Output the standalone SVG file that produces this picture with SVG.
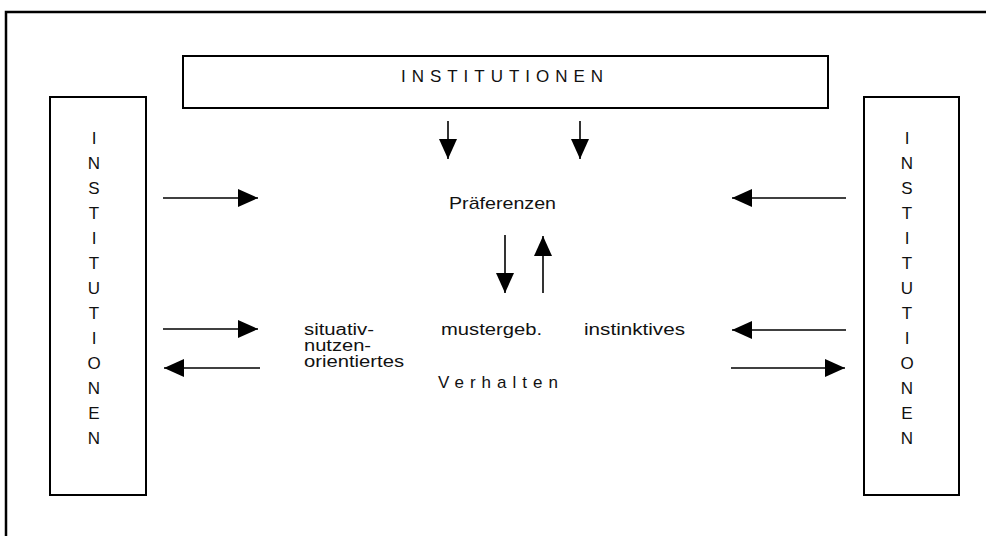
<svg xmlns="http://www.w3.org/2000/svg" width="986" height="536" viewBox="0 0 986 536">
  <style>
    .box { fill: #fff; stroke: #000; stroke-width: 2; }
    .frame { fill: none; stroke: #000; stroke-width: 2.5; }
    .t { font-family: "Liberation Sans", Arial, sans-serif; font-size: 17px; fill: #111; }
    .s { font-family: "Liberation Sans", Arial, sans-serif; font-size: 16px; fill: #111; }
    .v { font-family: "Liberation Sans", Arial, sans-serif; font-size: 17px; fill: #111; text-anchor: middle; }
    .arr { stroke: #000; stroke-width: 1.6; fill: none; marker-end: url(#head); }
  </style>
  <defs>
    <marker id="head" markerUnits="userSpaceOnUse" markerWidth="20" markerHeight="20" refX="20" refY="10" orient="auto" viewBox="0 0 20 20">
      <path d="M0,1 L20,10 L0,19 Z" fill="#000"/>
    </marker>
  </defs>
  <rect width="986" height="536" fill="#fff"/>
  <rect class="frame" x="6" y="12" width="1010" height="600"/>

  <g id="institutionen-top">
    <rect class="box" x="183" y="56" width="645" height="52"/>
    <text class="t" x="401" y="82" textLength="202" lengthAdjust="spacing" font-size="16">INSTITUTIONEN</text>
  </g>

  <g id="institutionen-left">
    <rect class="box" x="50" y="97" width="96" height="398"/>
    <text class="v"><tspan x="94" y="144">I</tspan><tspan x="94" y="169">N</tspan><tspan x="94" y="194">S</tspan><tspan x="94" y="219">T</tspan><tspan x="94" y="244">I</tspan><tspan x="94" y="269">T</tspan><tspan x="94" y="294">U</tspan><tspan x="94" y="319">T</tspan><tspan x="94" y="344">I</tspan><tspan x="94" y="369">O</tspan><tspan x="94" y="394">N</tspan><tspan x="94" y="419">E</tspan><tspan x="94" y="444">N</tspan></text>
  </g>

  <g id="institutionen-right">
    <rect class="box" x="864" y="97" width="95" height="398"/>
    <text class="v"><tspan x="907" y="144">I</tspan><tspan x="907" y="169">N</tspan><tspan x="907" y="194">S</tspan><tspan x="907" y="219">T</tspan><tspan x="907" y="244">I</tspan><tspan x="907" y="269">T</tspan><tspan x="907" y="294">U</tspan><tspan x="907" y="319">T</tspan><tspan x="907" y="344">I</tspan><tspan x="907" y="369">O</tspan><tspan x="907" y="394">N</tspan><tspan x="907" y="419">E</tspan><tspan x="907" y="444">N</tspan></text>
  </g>

  <g id="praeferenzen">
    <text class="t" x="449" y="209" textLength="107" lengthAdjust="spacingAndGlyphs">Präferenzen</text>
  </g>

  <g id="situativ">
    <text class="s"><tspan x="304" y="335" textLength="70" lengthAdjust="spacingAndGlyphs">situativ-</tspan><tspan x="304" y="351" textLength="67" lengthAdjust="spacingAndGlyphs">nutzen-</tspan><tspan x="304" y="367" textLength="100" lengthAdjust="spacingAndGlyphs">orientiertes</tspan></text>
  </g>

  <g id="mustergeb">
    <text class="t" x="441" y="335" textLength="101" lengthAdjust="spacingAndGlyphs">mustergeb.</text>
  </g>

  <g id="instinktives">
    <text class="t" x="584" y="335" textLength="101" lengthAdjust="spacingAndGlyphs">instinktives</text>
  </g>

  <g id="verhalten">
    <text class="t" x="438" y="388" textLength="120" lengthAdjust="spacing" font-size="18">Verhalten</text>
  </g>

  <g id="connectors">
    <line class="arr" x1="163" y1="198" x2="258" y2="198"/>
    <line class="arr" x1="163" y1="329" x2="258" y2="329"/>
    <line class="arr" x1="260" y1="368" x2="164" y2="368"/>
    <line class="arr" x1="846" y1="198" x2="732" y2="198"/>
    <line class="arr" x1="846" y1="330" x2="732" y2="330"/>
    <line class="arr" x1="731" y1="368" x2="845" y2="368"/>
    <line class="arr" x1="448" y1="121" x2="448" y2="159"/>
    <line class="arr" x1="580" y1="121" x2="580" y2="159"/>
    <line class="arr" x1="505" y1="235" x2="505" y2="293"/>
    <line class="arr" x1="543" y1="293" x2="543" y2="236"/>
  </g>
</svg>
